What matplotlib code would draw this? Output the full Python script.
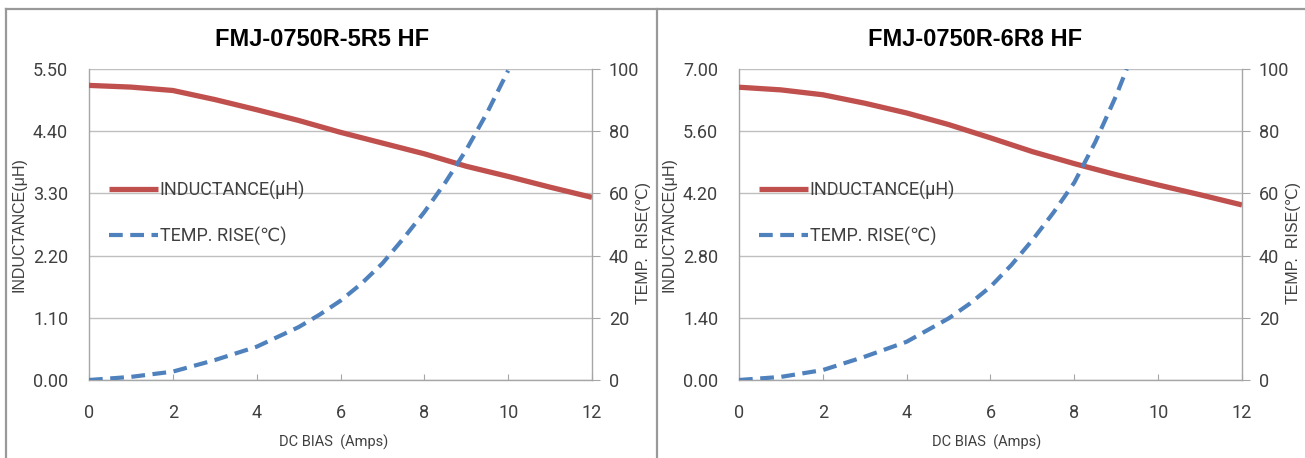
import matplotlib
matplotlib.use('Agg')
import matplotlib.pyplot as plt
from matplotlib.lines import Line2D
from matplotlib import font_manager

# narrow font for the Excel-looking text, plain sans for the rest
names = {f.name for f in font_manager.fontManager.ttflist}
narrow = 'Liberation Sans Narrow' if 'Liberation Sans Narrow' in names else 'Roboto'
plt.rcParams['font.family'] = ['Liberation Sans', 'DejaVu Sans']

# ---- data ----
titles = ['FMJ-0750R-5R5 HF', 'FMJ-0750R-6R8 HF']

bias = [0, 1, 2, 3, 4, 5, 6, 7, 8, 9, 10, 11, 12]
ind_5r5 = [5.21, 5.18, 5.12, 4.96, 4.78, 4.59, 4.38, 4.19, 4.00, 3.78, 3.60, 3.41, 3.23]
ind_6r8 = [6.59, 6.53, 6.42, 6.23, 6.01, 5.75, 5.45, 5.14, 4.87, 4.62, 4.39, 4.17, 3.94]

temp_x_5r5 = [0, 1, 2, 3, 4, 5, 5.5, 6, 6.5, 7, 7.5, 8, 8.5, 9, 9.5, 10]
temp_5r5 = [0, 1.0, 2.7, 6.4, 10.7, 17, 21, 25.5, 31, 37.5, 45.5, 54, 63.5, 74, 86, 99.5]
temp_x_6r8 = [0, 1, 2, 3, 4, 5, 5.5, 6, 6.5, 7, 7.5, 8, 8.5, 9, 9.25]
temp_6r8 = [0, 1.0, 3.2, 7.5, 12.3, 19.8, 24.5, 30, 37, 45, 53.8, 63.5, 76.5, 91.5, 100]

ind_max = [5.5, 7.0]
ind_ticks = [[0, 1.1, 2.2, 3.3, 4.4, 5.5], [0, 1.4, 2.8, 4.2, 5.6, 7.0]]
temp_ticks = [0, 20, 40, 60, 80, 100]
x_ticks = [0, 2, 4, 6, 8, 10, 12]

RED = '#C0504D'
BLUE = '#4F81BD'
GRID = '#BFBFBF'
TXT = '#404040'
W, H = 1305, 458

fig = plt.figure(figsize=(W / 100, H / 100), dpi=100)

# panel borders
for xs, ys in [([6, W], [9, 9]), ([6, 6], [9, H]), ([657, 657], [9, H])]:
    fig.add_artist(Line2D([x / W for x in xs], [1 - y / H for y in ys],
                          color='#999999', lw=1.6, transform=fig.transFigure))

# (axes left px, title centre px, inductance, temp x, temp values)
panels = [
    (89, 322, ind_5r5, temp_x_5r5, temp_5r5),
    (739, 975, ind_6r8, temp_x_6r8, temp_6r8),
]

for i, (x0, tc, ind, tx, tv) in enumerate(panels):
    ax = fig.add_axes([x0 / W, 1 - 380 / H, 503 / W, 311 / H])
    ax2 = ax.twinx()

    ax.plot(bias, ind, color=RED, lw=3.8, solid_capstyle='butt', label='INDUCTANCE(μH)', zorder=3)
    ax2.plot(tx, tv, color=BLUE, lw=3.0, dashes=(3.3, 1.8), label='TEMP. RISE(\u2103)', zorder=3)

    ax.set_xlim(0, 12)
    ax.set_ylim(0, ind_max[i])
    ax2.set_ylim(0, 100)
    ax.set_xticks(x_ticks)
    ax.set_yticks(ind_ticks[i])
    ax.set_yticklabels([f'{v:.2f}' for v in ind_ticks[i]])
    ax2.set_yticks(temp_ticks)

    ax.grid(axis='y', color=GRID, lw=1.0)
    ax.set_axisbelow(True)
    for s in list(ax.spines.values()) + list(ax2.spines.values()):
        s.set_visible(False)
    for s in [ax.spines['left'], ax.spines['bottom'], ax2.spines['right']]:
        s.set_visible(True)
        s.set_color('#A6A6A6')
        s.set_linewidth(1.0)

    ax.tick_params(axis='y', length=0, pad=15, labelsize=13, labelcolor=TXT)
    ax.tick_params(axis='x', direction='in', length=4, color='#A6A6A6', pad=17,
                   labelsize=13, labelcolor=TXT)
    ax2.tick_params(axis='y', length=6, color='#A6A6A6', pad=6, labelsize=13, labelcolor=TXT)
    for lab in ax.get_xticklabels() + ax.get_yticklabels() + ax2.get_yticklabels():
        lab.set_fontfamily(narrow)

    ax.set_xlabel('DC BIAS  (Amps)', fontfamily=narrow, fontsize=10.5, color=TXT)
    ax.xaxis.set_label_coords((tc + 12 - x0) / 503, -0.175)
    ax.set_ylabel('INDUCTANCE(μH)', fontsize=11.5, color=TXT)
    ax.yaxis.set_label_coords(-0.124, 0.5)
    ax2.set_ylabel('TEMP.  RISE(\u2103)', family=['Liberation Sans', 'DejaVu Sans'],
                   fontsize=11.5, color=TXT, rotation=90)
    ax2.yaxis.set_label_coords(1.088, 0.44)

    fig.text(tc / W, 1 - 40 / H, titles[i], fontsize=17, fontweight='bold',
             ha='center', va='center')

    handles = [ax.get_lines()[0], ax2.get_lines()[0]]
    leg = ax.legend(handles, [h.get_label() for h in handles], loc='upper left',
                    bbox_to_anchor=(0.04, 0.642), frameon=False, handlelength=2.7,
                    handletextpad=0.1, labelspacing=1.5, borderpad=0, borderaxespad=0,
                    prop={'family': [narrow, 'DejaVu Sans'], 'size': 13})
    for t in leg.get_texts():
        t.set_color(TXT)

fig.savefig('out.png', dpi=100, facecolor='white')
